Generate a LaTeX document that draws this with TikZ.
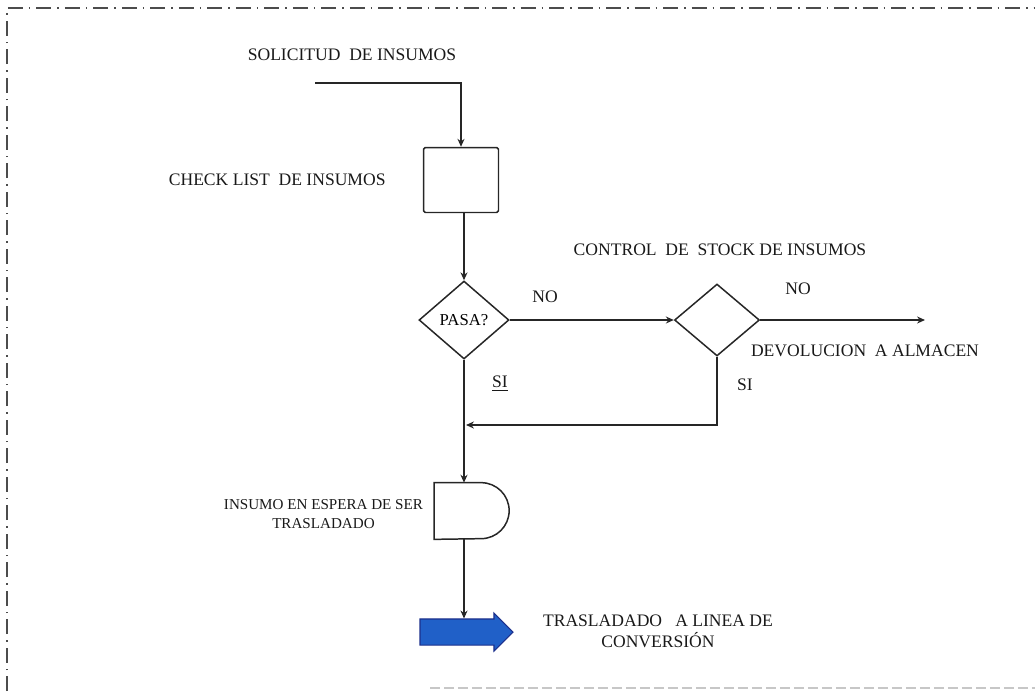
\documentclass[tikz,border=0pt]{standalone}
\usepackage{fontspec}
\setmainfont{Liberation Serif}
\usetikzlibrary{arrows.meta,positioning,shapes.geometric,shapes.arrows}
\definecolor{flecha}{RGB}{32,96,200}
\definecolor{flechaborde}{RGB}{28,48,140}

\begin{document}
\begin{tikzpicture}[x=0.02cm,y=-0.02cm]
	\tikzset{etiqueta/.style={align=center,font=\fontsize{10}{12}\selectfont,text=black!90},
		linea/.style={draw,line width=0.85pt,black!85,-{Stealth[length=4.5pt,width=4pt]}},
		rombo/.style={draw,diamond,inner sep=0pt,line width=0.85pt,black!85},
		caja/.style={draw,rectangle,rounded corners=1pt,line width=0.85pt,black!85,minimum width=1.5cm,minimum height=1.3cm}}
	\useasboundingbox (0,0) rectangle (1035,691);
	% marco punteado
	\draw[black!70,line width=1pt,dash pattern=on 0.3cm off 0.12cm on 0.03cm off 0.12cm] (7,691) -- (7,8) -- (1035,8);
	\draw[black!22,line width=1.5pt,dash pattern=on 0.2cm off 0.08cm] (430,688) -- (1035,688);
	% nodos
	\node [etiqueta] (solicitud) at (352,55) {SOLICITUD\ \ DE INSUMOS};
	\coordinate (inicio) at (315,83);
	\node [caja] (check) at (461,180) {};
	\node [etiqueta, left=0.62cm of check] (checklist) {CHECK LIST\ \ DE INSUMOS};
	\node [rombo, minimum width=1.8cm, minimum height=1.56cm, text=black, font=\fontsize{9.5}{11}\selectfont] (pasa) at (464,320) {PASA?};
	\node [rombo, minimum width=1.7cm, minimum height=1.44cm] (stock) at (717,320) {};
	\node [etiqueta] (control) at (720,250) {CONTROL\ \ DE\ \ STOCK DE INSUMOS};
	\node [etiqueta] (no1) at (545,297) {NO};
	\node [etiqueta] (no2) at (798,289) {NO};
	\coordinate (devolucion) at (925,320);
	\node [etiqueta] (almacen) at (865,351) {DEVOLUCION\ \ A ALMACEN};
	\node [etiqueta] (si1) at (500,384) {\underline{SI}};
	\node [etiqueta] (si2) at (745,385) {SI};
	\coordinate (union) at (466,425);
	\node [minimum width=1.5cm, minimum height=1.12cm, inner sep=0pt] (espera) at (472,511) {};
	\draw[line width=0.85pt,black!85] (espera.north west) -- ++(0.94cm,0) arc (90:-90:0.56cm) -- (espera.south west) -- cycle;
	\node [etiqueta, font=\fontsize{8.6}{10.5}\selectfont, left=0.1cm of espera, yshift=-0.06cm] (insumo) {INSUMO EN ESPERA DE SER\\TRASLADADO};
	\node [single arrow, draw=flechaborde, fill=flecha, line width=0.6pt, inner xsep=0pt, inner ysep=0.25cm,
		minimum height=1.86cm, single arrow head extend=0.12cm] (traslado) at (460,632) {};
	\node [etiqueta] (conversion) at (658,631) {TRASLADADO\ \ \ A LINEA DE\\CONVERSIÓN};
	% conectores
	\draw[linea] (inicio) -| (check.north);
	\draw[linea] (pasa.north |- check.south) -- (pasa.north);
	\draw[linea] (pasa) -- (stock);
	\draw[linea] (stock) -- (devolucion);
	\draw[linea] (pasa.south) -- (pasa.south |- espera.north);
	\draw[linea] (stock.south) |- (union);
	\draw[linea] (pasa.south |- espera.south) -- (pasa.south |- traslado.north);
\end{tikzpicture}
\end{document}
